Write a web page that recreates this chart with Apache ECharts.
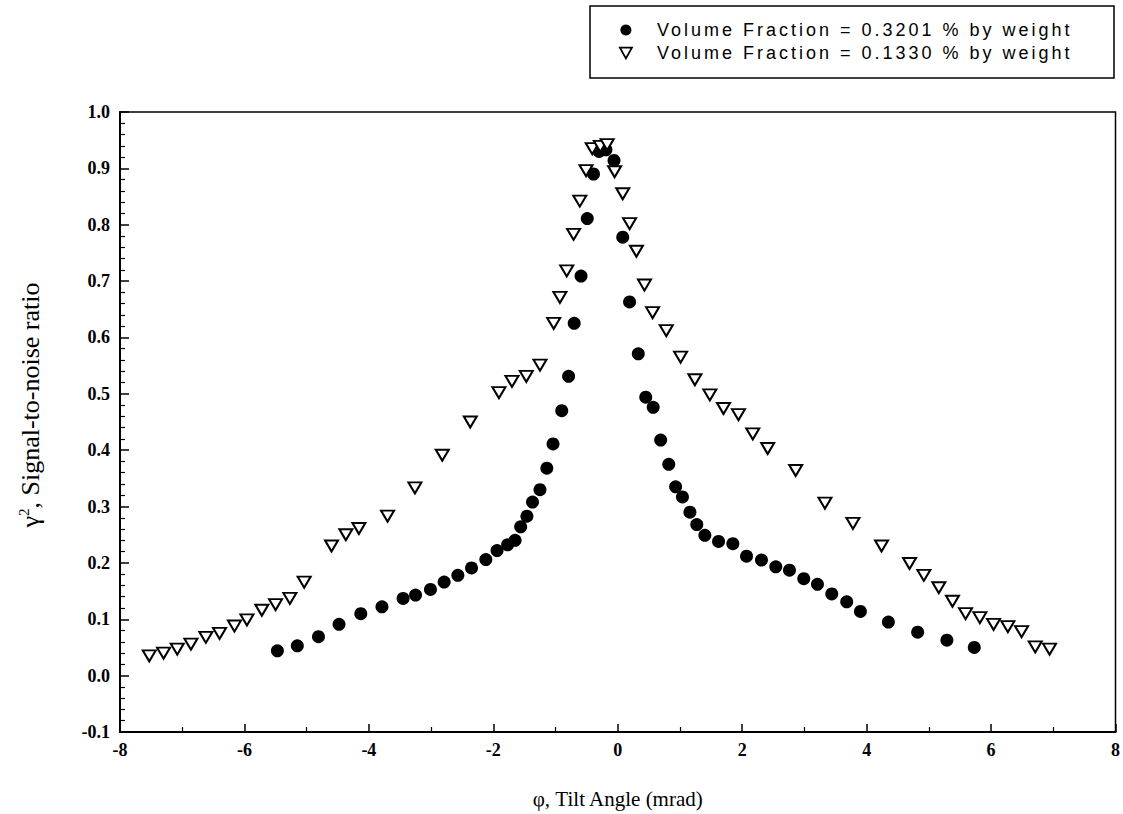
<!DOCTYPE html>
<html>
<head>
<meta charset="utf-8">
<script src="https://cdn.jsdelivr.net/npm/echarts@6/dist/echarts.min.js"></script>
<style>
html,body{margin:0;padding:0;background:#fff;}
#chart{width:1123px;height:814px;}
</style>
</head>
<body>
<div id="chart"></div>
<script>
// Tilt angle (mrad) and signal-to-noise ratio, 0.3201 % by weight
var circleX = [-5.47,-5.15,-4.81,-4.48,-4.13,-3.79,-3.45,-3.25,-3.01,-2.79,-2.57,-2.35,-2.12,-1.94,-1.77,-1.65,-1.56,-1.46,-1.37,-1.25,-1.14,-1.04,-0.90,-0.79,-0.70,-0.59,-0.49,-0.39,-0.30,-0.19,-0.06,0.08,0.19,0.33,0.45,0.57,0.69,0.82,0.93,1.04,1.16,1.27,1.40,1.62,1.85,2.07,2.31,2.54,2.76,2.99,3.21,3.44,3.68,3.90,4.35,4.82,5.29,5.73];
var circleY = [0.044,0.053,0.069,0.091,0.110,0.122,0.137,0.143,0.153,0.166,0.178,0.191,0.206,0.222,0.232,0.240,0.264,0.283,0.308,0.330,0.368,0.411,0.470,0.531,0.625,0.709,0.811,0.890,0.930,0.933,0.914,0.778,0.663,0.571,0.494,0.476,0.418,0.375,0.335,0.317,0.290,0.268,0.249,0.238,0.234,0.212,0.205,0.193,0.187,0.172,0.162,0.145,0.131,0.114,0.095,0.077,0.063,0.050];
// 0.1330 % by weight
var triX = [-7.53,-7.30,-7.08,-6.86,-6.62,-6.40,-6.16,-5.96,-5.72,-5.50,-5.27,-5.04,-4.60,-4.37,-4.16,-3.70,-3.26,-2.82,-2.37,-1.91,-1.70,-1.47,-1.25,-1.03,-0.93,-0.82,-0.71,-0.61,-0.51,-0.41,-0.28,-0.17,-0.05,0.08,0.19,0.30,0.43,0.56,0.78,1.01,1.24,1.48,1.70,1.94,2.17,2.41,2.86,3.33,3.78,4.24,4.69,4.92,5.16,5.38,5.59,5.82,6.04,6.27,6.49,6.71,6.94];
var triY = [0.035,0.040,0.047,0.056,0.068,0.075,0.088,0.099,0.116,0.126,0.137,0.166,0.230,0.250,0.261,0.283,0.333,0.391,0.450,0.502,0.522,0.531,0.551,0.625,0.671,0.718,0.783,0.842,0.896,0.935,0.939,0.942,0.894,0.855,0.802,0.753,0.693,0.644,0.612,0.565,0.525,0.498,0.474,0.463,0.429,0.403,0.364,0.306,0.270,0.230,0.199,0.178,0.156,0.132,0.110,0.103,0.091,0.087,0.078,0.051,0.047];
var xTicks = [-8,-6,-4,-2,0,2,4,6,8];
var yTicks = [-0.1,0.0,0.1,0.2,0.3,0.4,0.5,0.6,0.7,0.8,0.9,1.0];
var seriesNames = ['Volume Fraction = 0.3201 % by weight','Volume Fraction = 0.1330 % by weight'];
var xTitle = '\u03c6, Tilt Angle (mrad)';
var yTitleParts = ['\u03b3', '2', ', Signal-to-noise ratio'];

function pairs(xs, ys){ return xs.map(function(x,i){ return [x, ys[i]]; }); }

var chart = echarts.init(document.getElementById('chart'), null, {renderer:'svg'});
var serif = "'Liberation Serif', 'Times New Roman', serif";
var tickFont = {fontFamily:serif, fontSize:18, fontWeight:'bold', color:'#000'};
chart.setOption({
  animation:false,
  backgroundColor:'#fff',
  grid:{left:120, right:7, top:112, bottom:82, show:true, borderColor:'#000', borderWidth:1.5, backgroundColor:'transparent'},
  legend:{
    orient:'vertical', left:619, top:21,
    data:[
      {name:seriesNames[0], icon:'circle', itemStyle:{color:'#000', opacity:1}},
      {name:seriesNames[1], icon:'path://M0,0 L10,0 L5,9 Z', itemStyle:{color:'#fff', borderColor:'#000', borderWidth:1.8}}
    ],
    itemWidth:12, itemHeight:11, itemGap:5,
    padding:0,
    textStyle:{fontFamily:"'Liberation Sans', Arial, sans-serif", fontSize:18, color:'#000', padding:[0,0,0,20]}
  },
  graphic:[
    {type:'rect', shape:{x:590, y:6, width:524, height:72}, style:{fill:'none', stroke:'#000', lineWidth:1.5}, silent:true},
    {type:'text', x:30, y:405, rotation:Math.PI/2, silent:true,
     style:{text:'{g|'+yTitleParts[0]+'}{s|'+yTitleParts[1]+'}{t|'+yTitleParts[2]+'}', align:'center', verticalAlign:'middle',
       rich:{
         g:{fontFamily:serif, fontSize:26, fill:'#000'},
         s:{fontFamily:serif, fontSize:15, fill:'#000', verticalAlign:'top', padding:[0,0,12,0]},
         t:{fontFamily:serif, fontSize:26, fill:'#000'}
       }}}
  ],
  xAxis:{
    type:'value', min:-8, max:8, interval:2,
    name:xTitle, nameLocation:'middle', nameGap:56,
    nameTextStyle:{fontFamily:serif, fontSize:21, color:'#000'},
    axisLine:{onZero:false, lineStyle:{color:'#000', width:2}},
    axisTick:{inside:true, length:8, lineStyle:{color:'#000', width:1.5}},
    minorTick:{show:true, splitNumber:2, length:5, lineStyle:{color:'#000', width:1.2}},
    splitLine:{show:false},
    axisLabel:Object.assign({margin:9, formatter:function(v){ return xTicks.indexOf(v)>=0 ? String(v) : ''; }}, tickFont)
  },
  yAxis:{
    type:'value', min:-0.1, max:1.0, interval:0.1,
    axisLine:{onZero:false, lineStyle:{color:'#000', width:2}},
    axisTick:{inside:true, length:9, lineStyle:{color:'#000', width:1.5}},
    minorTick:{show:true, splitNumber:5, length:5, lineStyle:{color:'#000', width:1.2}},
    splitLine:{show:false},
    axisLabel:Object.assign({margin:10, formatter:function(v){
      var r = Math.round(v*10)/10;
      for (var i=0;i<yTicks.length;i++){ if (Math.abs(yTicks[i]-r)<1e-6) return yTicks[i].toFixed(1); }
      return '';
    }}, tickFont)
  },
  series:[
    {name:seriesNames[0], type:'scatter', data:pairs(circleX, circleY), symbol:'circle', symbolSize:13,
     itemStyle:{color:'#000', opacity:1}, z:3},
    {name:seriesNames[1], type:'scatter', data:pairs(triX, triY), symbol:'triangle', symbolRotate:180, symbolSize:[13,11],
     itemStyle:{color:'#fff', borderColor:'#000', borderWidth:2, opacity:1}, z:4}
  ]
});

function spaceLegend(){
  var texts = document.querySelectorAll('#chart text');
  for (var i=0;i<texts.length;i++){
    if (texts[i].textContent.indexOf('Volume Fraction') >= 0){
      texts[i].setAttribute('letter-spacing','3px');
    }
  }
}
spaceLegend();
chart.on('finished', spaceLegend);
</script>
</body>
</html>
